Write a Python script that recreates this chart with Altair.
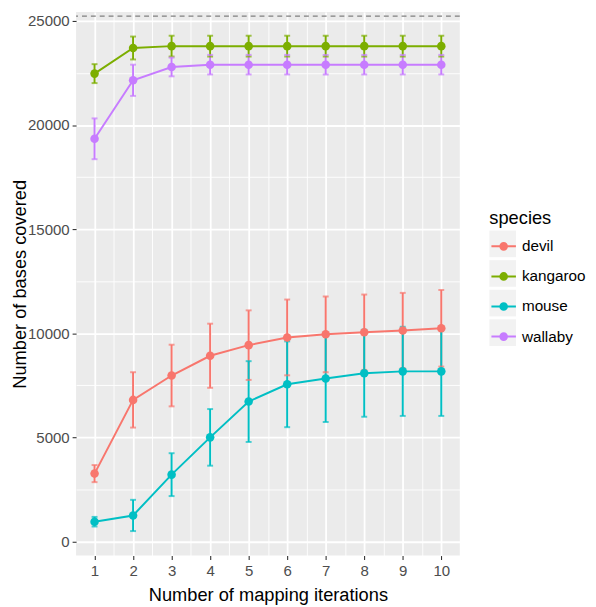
import altair as alt
import pandas as pd

# ---- data ----
iterations = [1, 2, 3, 4, 5, 6, 7, 8, 9, 10]
species = ["devil", "kangaroo", "mouse", "wallaby"]

devil_mean = [3260, 6800, 7970, 8920, 9430, 9800, 9950, 10050, 10130, 10240]
devil_sd = [410, 1330, 1480, 1540, 1670, 1820, 1820, 1810, 1810, 1840]

kangaroo_mean = [22470, 23700, 23790, 23790, 23790, 23790, 23790, 23790, 23790, 23790]
kangaroo_sd = [455, 550, 500, 500, 500, 500, 500, 500, 500, 500]

mouse_mean = [950, 1250, 3210, 5000, 6720, 7550, 7830, 8080, 8170, 8170]
mouse_sd = [230, 750, 1030, 1360, 1940, 2060, 2090, 2090, 2140, 2140]

wallaby_mean = [19340, 22150, 22790, 22900, 22900, 22900, 22900, 22900, 22900, 22900]
wallaby_sd = [980, 750, 450, 470, 470, 470, 470, 470, 470, 470]

max_bases = [25230]

colors = ["#F8766D", "#7CAE00", "#00BFC4", "#C77CFF"]

x_breaks = [1, 1.5, 2, 2.5, 3, 3.5, 4, 4.5, 5, 5.5, 6, 6.5, 7, 7.5, 8, 8.5, 9, 9.5, 10]
y_breaks = [0, 2500, 5000, 7500, 10000, 12500, 15000, 17500, 20000, 22500, 25000]

rows = []
for sp, means, sds in zip(species,
                          [devil_mean, kangaroo_mean, mouse_mean, wallaby_mean],
                          [devil_sd, kangaroo_sd, mouse_sd, wallaby_sd]):
    for it, m, s in zip(iterations, means, sds):
        rows.append({"species": sp, "key": sp, "iteration": it,
                     "mean": m, "lo": m - s, "hi": m + s})
df = pd.DataFrame(rows)
hdf = pd.DataFrame({"y": max_bases})

FONT = "Liberation Sans"

xscale = alt.Scale(domain=[0.52, 10.48], nice=False, zero=False)
yscale = alt.Scale(domain=[-677, 25426], nice=False, zero=False)

x_axis = alt.Axis(
    values=x_breaks, title="Number of mapping iterations",
    labelExpr="datum.value % 1 === 0 ? format(datum.value, 'd') : ''",
    gridWidth={"condition": {"test": "datum.value % 1 === 0", "value": 1.8}, "value": 0.9},
    tickOpacity={"condition": {"test": "datum.value % 1 === 0", "value": 1}, "value": 0},
    labelOverlap=False, labelFlush=False, labelBound=False,
)
y_axis = alt.Axis(
    values=y_breaks, title="Number of bases covered",
    labelExpr="datum.value % 5000 === 0 ? format(datum.value, 'd') : ''",
    gridWidth={"condition": {"test": "datum.value % 5000 === 0", "value": 1.8}, "value": 0.9},
    tickOpacity={"condition": {"test": "datum.value % 5000 === 0", "value": 1}, "value": 0},
    labelOverlap=False, labelFlush=False, labelBound=False,
)

X = alt.X("iteration:Q", scale=xscale, axis=x_axis)
Y = alt.Y("mean:Q", scale=yscale, axis=y_axis)

key_path = ("M-0.92,0L0.92,0M-0.25,0A0.25,0.25,0,1,1,0.25,0"
            "A0.25,0.25,0,1,1,-0.25,0Z")

LEG_X = 419
LEG_Y = 198

color_legend = alt.Legend(
    orient="none", legendX=LEG_X, legendY=LEG_Y + 1.5, title="species",
    titleFontSize=18.5, titleFont=FONT, titleColor="#000000", titleFontWeight="normal",
    titlePadding=5, labelFontSize=15.5, labelFont=FONT, labelColor="#000000",
    labelOffset=4, rowPadding=7.5, symbolSize=729, symbolType=key_path,
    symbolStrokeWidth=2, symbolOpacity=1, padding=0, zindex=2,
)
C = alt.Color("species:N", scale=alt.Scale(domain=species, range=colors),
              legend=color_legend)

base = alt.Chart(df)

points = base.mark_circle(size=75, opacity=1).encode(x=X, y=Y, color=C)
lines = base.mark_line(strokeWidth=2).encode(x=X, y=Y, color=C)
bars = base.mark_rule(strokeWidth=2).encode(
    x=X, y=alt.Y("lo:Q", scale=yscale, axis=y_axis), y2="hi:Q", color=C)
caps = base.transform_fold(["lo", "hi"], as_=["end", "val"]).mark_tick(
    orient="horizontal", thickness=2, size=6).encode(
    x=X, y=alt.Y("val:Q", scale=yscale, axis=y_axis), color=C)

key_legend = alt.Legend(
    orient="none", legendX=LEG_X, legendY=LEG_Y, title=" ",
    titleFontSize=18.5, titleFont=FONT, titleFontWeight="normal",
    titlePadding=5, labelFontSize=15.5, labelFont=FONT, labelExpr="''",
    labelOffset=4, rowPadding=3, symbolSize=729, symbolType="square",
    symbolFillColor="#F2F2F2", symbolStrokeColor="transparent", symbolStrokeWidth=0,
    symbolOpacity=1, padding=0, zindex=1,
)
dummy = base.mark_point(filled=True, size=0, opacity=1, color="#F2F2F2").encode(
    x=X, y=Y,
    shape=alt.Shape("key:N", scale=alt.Scale(range=["square"] * 4),
                    legend=key_legend))

hline = alt.Chart(hdf).mark_rule(strokeDash=[5, 4], color="#808080", strokeWidth=1.3).encode(
    y=alt.Y("y:Q", scale=yscale, axis=y_axis))

chart = alt.layer(dummy, lines, bars, caps, points, hline).properties(
    width=389, height=551,
    autosize=alt.AutoSizeParams(type="none"),
    padding={"left": 69, "top": 0, "right": 130, "bottom": 48},
).configure_view(
    fill="#EBEBEB", stroke="transparent", strokeWidth=0
).configure_axis(
    grid=True, gridColor="#FFFFFF", domain=False,
    tickColor="#333333", tickSize=4, tickWidth=1.1,
    labelColor="#4D4D4D", labelFont=FONT, labelFontSize=15.2,
    titleColor="#000000", titleFont=FONT, titleFontSize=18.5, titleFontWeight="normal",
).configure_axisX(titlePadding=7, labelPadding=4).configure_axisY(titlePadding=-2, labelPadding=3)

chart.save("out.html", embed_options={"renderer": "svg", "actions": False})
